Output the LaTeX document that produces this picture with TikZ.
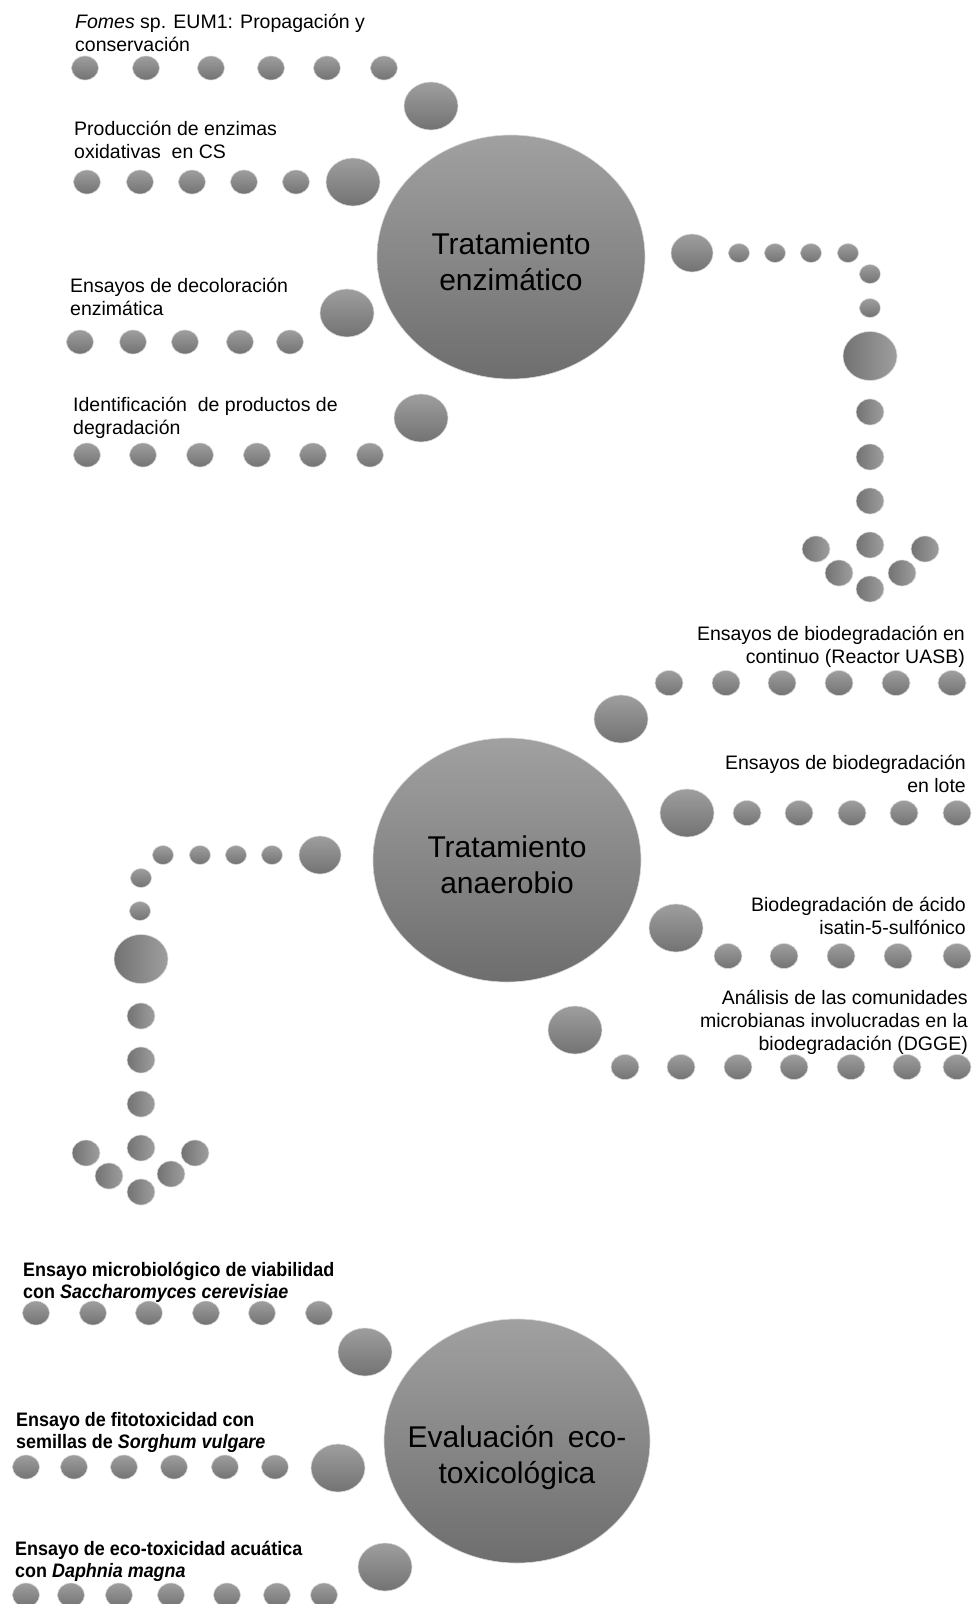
\documentclass[tikz,border=0pt]{standalone}
\usepackage{fontspec}
\setmainfont{Liberation Sans}
\newfontfamily\narrowsans[FakeStretch=0.92]{Liberation Sans}
\usetikzlibrary{shapes.geometric}
\definecolor{hubtop}{gray}{0.63}
\definecolor{hubbot}{gray}{0.43}
\definecolor{dottop}{gray}{0.62}
\definecolor{dotbot}{gray}{0.45}
\tikzset{
  every picture/.style={
    x=1pt, y=-1pt
  },
  blob/.style={
    ellipse, inner sep=0pt, draw=gray!30, line width=0.6pt
  },
  % row dots: light on top, arrow dots: light on the right
  dot/.style={blob, minimum width=27pt, minimum height=24pt,
    top color=dottop, bottom color=dotbot},
  bigdot/.style={dot, minimum width=54pt, minimum height=48pt},
  tinydot/.style={dot, minimum width=21pt, minimum height=19pt},
  startdot/.style={dot, minimum width=42pt, minimum height=38pt},
  adot/.style={blob, minimum width=28pt, minimum height=26pt,
    left color=dotbot, right color=dottop},
  bigadot/.style={adot, minimum width=54pt, minimum height=49pt},
  hub/.style={blob, minimum width=268pt, minimum height=244pt,
    top color=hubtop, bottom color=hubbot},
  hubtext/.style={inner sep=0pt, align=center, font=\fontsize{30}{36}\selectfont},
  item/.style={inner sep=0pt, align=left, anchor=north west,
    font=\fontsize{19.5}{23}\selectfont},
  itemr/.style={item, align=right, anchor=north east},
  ecoitem/.style={item, font=\narrowsans\bfseries\fontsize{19.5}{22}\selectfont}
}

\begin{document}
\begin{tikzpicture}
  \useasboundingbox (0,0) rectangle (976,1604);

  % Tratamiento enzimatico
  \node[hub] (enz) at (511,257) {};
  \node[hubtext] (enzt) at ([yshift=-5pt]enz.center) {Tratamiento\\enzimático};

  \node[item] (fomes) at (75,14) {\textit{Fomes} sp. EUM1: Propagación y\\conservación};
  \foreach \x [count=\i] in {85,146,211,271,327,384}
    \node[dot] (fomes\i) at (\x,68) {};
  \node[bigdot] (fomesb) at (431,106) {};

  \node[item] (prod) at (74,121) {Producción de enzimas\\oxidativas\ \ en CS};
  \foreach \x [count=\i] in {87,140,192,244,296}
    \node[dot] (prod\i) at (\x,182) {};
  \node[bigdot] (prodb) at (353,182) {};

  \node[item] (decol) at (70,278) {Ensayos de decoloración\\enzimática};
  \foreach \x [count=\i] in {80,133,185,240,290}
    \node[dot] (decol\i) at (\x,342) {};
  \node[bigdot] (decolb) at (347,313) {};

  \node[item] (ident) at (73,397) {Identificación\ \ de productos de\\degradación};
  \foreach \x [count=\i] in {87,143,200,257,313,370}
    \node[dot] (ident\i) at (\x,455) {};
  \node[bigdot] (identb) at (421,418) {};

  % arrow down to the right
  \node[startdot] (ra0) at (692,253) {};
  \foreach \x [count=\i] in {739,775,811,848}
    \node[tinydot] (rh\i) at (\x,253) {};
  \node[tinydot] (rv1) at (870,274) {};
  \node[tinydot] (rv2) at (870,308) {};
  \node[bigadot] (rvb) at (870,356) {};
  \foreach \y [count=\i] in {412,457,501,545}
    \node[adot] (rm\i) at (870,\y) {};
  \node[adot] (rl1) at (816,549) {};
  \node[adot] (rl2) at (839,573) {};
  \node[adot] (rtip) at (870,589) {};
  \node[adot] (rr2) at (902,573) {};
  \node[adot] (rr1) at (925,549) {};

  % Tratamiento anaerobio
  \node[hub] (ana) at (507,860) {};
  \node[hubtext] (anat) at ([yshift=-5pt]ana.center) {Tratamiento\\anaerobio};

  \node[itemr] (uasb) at (965,626) {Ensayos de biodegradación en\\continuo (Reactor UASB)};
  \foreach \x [count=\i] in {669,726,782,839,896,952}
    \node[dot, minimum width=28pt, minimum height=25pt] (uasb\i) at (\x,683) {};
  \node[bigdot] (uasbb) at (621,719) {};

  \node[itemr] (lote) at (966,755) {Ensayos de biodegradación\\en lote};
  \node[bigdot] (loteb) at (687,813) {};
  \foreach \x [count=\i] in {747,799,852,904,957}
    \node[dot, minimum width=28pt, minimum height=25pt] (lote\i) at (\x,813) {};

  \node[itemr] (isat) at (966,897) {Biodegradación de ácido\\isatin-5-sulfónico};
  \node[bigdot] (isatb) at (676,928) {};
  \foreach \x [count=\i] in {728,784,841,898,957}
    \node[dot, minimum width=28pt, minimum height=25pt] (isat\i) at (\x,956) {};

  \node[itemr] (dgge) at (968,990) {Análisis de las comunidades\\microbianas involucradas en la\\biodegradación (DGGE)};
  \node[bigdot] (dggeb) at (575,1030) {};
  \foreach \x [count=\i] in {625,681,738,794,851,907,957}
    \node[dot, minimum width=28pt, minimum height=25pt] (dgge\i) at (\x,1067) {};

  % arrow down to the left
  \node[startdot] (la0) at (320,855) {};
  \foreach \x [count=\i] in {272,236,200,163}
    \node[tinydot] (lh\i) at (\x,855) {};
  \node[tinydot] (lv1) at (141,878) {};
  \node[tinydot] (lv2) at (140,911) {};
  \node[bigadot] (lvb) at (141,959) {};
  \foreach \y [count=\i] in {1016,1060,1104,1148}
    \node[adot] (lm\i) at (141,\y) {};
  \node[adot] (ll1) at (86,1153) {};
  \node[adot] (ll2) at (109,1176) {};
  \node[adot] (ltip) at (141,1192) {};
  \node[adot] (lr2) at (171,1174) {};
  \node[adot] (lr1) at (195,1153) {};

  % Evaluacion eco-toxicologica
  \node[hub, minimum width=266pt] (eco) at (517,1441) {};
  \node[hubtext] (ecot) at ([yshift=-17pt]eco.center) {Evaluación\hspace{0.45em}eco-\\toxicológica};

  \node[ecoitem] (sacc) at (23,1262) {Ensayo microbiológico de viabilidad\\con \textit{Saccharomyces cerevisiae}};
  \foreach \x [count=\i] in {36,93,149,206,262,319}
    \node[dot] (sacc\i) at (\x,1313) {};
  \node[bigdot] (saccb) at (365,1352) {};

  \node[ecoitem] (sorg) at (16,1412) {Ensayo de fitotoxicidad con\\semillas de \textit{Sorghum vulgare}};
  \foreach \x [count=\i] in {26,74,124,174,225,275}
    \node[dot] (sorg\i) at (\x,1467) {};
  \node[bigdot] (sorgb) at (338,1468) {};

  \node[ecoitem] (daph) at (15,1541) {Ensayo de eco-toxicidad acuática\\con \textit{Daphnia magna}};
  \node[bigdot] (daphb) at (385,1567) {};
  \foreach \x [count=\i] in {26,71,119,171,227,277,324}
    \node[dot] (daph\i) at (\x,1595) {};
\end{tikzpicture}
\end{document}
